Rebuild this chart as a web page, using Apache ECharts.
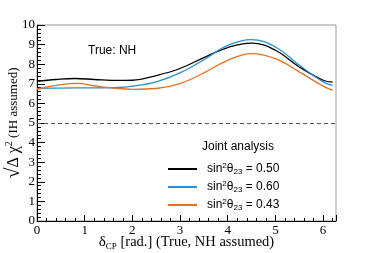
<!DOCTYPE html>
<html><head><meta charset="utf-8">
<script src="https://cdn.jsdelivr.net/npm/echarts@6/dist/echarts.min.js"></script>
<style>html,body{margin:0;padding:0;background:#fff}#c{width:374px;height:253px}</style>
</head><body><div id="c"></div>
<script>
const xVals = [0, 0.4, 0.8, 1.2, 1.7, 2.0, 2.5, 3.0, 3.5, 4.0, 4.5, 5.0, 5.5, 6.0, 6.2];
const s050 = [7.13, 7.22, 7.27, 7.22, 7.17, 7.18, 7.42, 7.78, 8.34, 8.85, 9.08, 8.71, 7.86, 7.18, 7.09];
const s060 = [6.76, 6.78, 6.79, 6.79, 6.81, 6.88, 7.10, 7.56, 8.23, 8.96, 9.25, 8.88, 7.95, 7.10, 6.92];
const orX  = [0, 0.85, 1.2, 1.7, 2.0, 2.5, 3.0, 3.5, 4.0, 4.5, 5.0, 5.5, 6.0, 6.2];
const s043 = [6.72, 7.02, 6.9, 6.76, 6.72, 6.76, 7.01, 7.56, 8.2, 8.54, 8.28, 7.61, 6.88, 6.67];
const names = ['0.50', '0.60', '0.43'];
const colors = ['#000000', '#2a8fcf', '#e8701c'];
const refLine = 5;

const chart = echarts.init(document.getElementById('c'));
const serif = 'Liberation Serif';
const sans = 'Liberation Sans';
function pairs(xs, ys){ return xs.map((x,i)=>[x, ys[i]]); }
const lineSeries = (n, data, c) => ({
  name: n, type: 'line', data: data, smooth: 0.4, symbol: 'none',
  lineStyle: {color: c, width: 1.3}, itemStyle: {color: c}
});
chart.setOption({
  animation: false,
  grid: {left: 37, right: 38, top: 25, bottom: 32, show: true, borderColor: '#999', borderWidth: 1,
         containLabel: false, outerBoundsMode: 'none'},
  title: {text: 'True: NH', left: 83, top: 40, textStyle: {fontFamily: sans, fontSize: 12, fontWeight: 'normal', color: '#000'}},
  legend: {
    orient: 'vertical', left: 163, top: 157, itemWidth: 29, itemHeight: 2, itemGap: 4, icon: 'rect',
    data: names,
    formatter: n => '{f|sin}{sup|2}{a|θ}{sub|23}{a| = ' + n + '}',
    textStyle: {fontFamily: sans, fontSize: 12, color: '#000', rich: {
      f: {fontFamily: sans, fontSize: 12, color: '#000', padding: [0,0,0,5]},
      a: {fontFamily: sans, fontSize: 12, color: '#000'},
      sup: {fontFamily: sans, fontSize: 8, color: '#000', verticalAlign: 'top', padding: [0,0,6,0]},
      sub: {fontFamily: sans, fontSize: 8, color: '#000', verticalAlign: 'bottom', padding: [6,0,0,0]}
    }}
  },
  graphic: [
    {type: 'text', left: 202, top: 141, style: {text: 'Joint analysis', font: '12px "Liberation Sans"', fill: '#000'}},
    {type: 'text', x: 14, y: 123, rotation: Math.PI/2, style: {
      text: '{r|√}{o|Δ χ}{sup|2}{n| (IH assumed)}', align: 'center', verticalAlign: 'middle',
      rich: {
        r: {font: '20px "Liberation Serif"', fill: '#000'},
        o: {font: '16px "Liberation Serif"', fill: '#000'},
        sup: {font: '10px "Liberation Serif"', fill: '#000', verticalAlign: 'top', padding: [0,0,8,0]},
        n: {font: '13px "Liberation Serif"', fill: '#000'}
      }}}
  ],
  xAxis: {
    type: 'value', min: 0, max: 6.27, interval: 1,
    name: '{d|δ}{sub|CP}{n| [rad.] (True, NH assumed)}', nameLocation: 'middle', nameGap: 13,
    nameMoveOverlap: false,
    nameTextStyle: {rich: {
      d: {fontFamily: serif, fontSize: 15, color: '#000'},
      sub: {fontFamily: serif, fontSize: 9, color: '#000', verticalAlign: 'bottom', padding: [8,0,0,0]},
      n: {fontFamily: serif, fontSize: 14.5, color: '#000'}
    }},
    axisLine: {lineStyle: {color: '#000', width: 1}},
    axisTick: {inside: true, length: 6, lineStyle: {color: '#000'}},
    minorTick: {show: true, splitNumber: 5, length: 3, lineStyle: {color: '#000'}},
    axisLabel: {fontFamily: serif, fontSize: 13, color: '#000', margin: 3, showMaxLabel: false},
    splitLine: {show: false}
  },
  yAxis: {
    type: 'value', min: 0, max: 10, interval: 1,
    axisLine: {show: true, lineStyle: {color: '#000', width: 1}},
    axisTick: {show: true, inside: true, length: 8, lineStyle: {color: '#000'}},
    minorTick: {show: true, splitNumber: 5, length: 4, lineStyle: {color: '#000'}},
    axisLabel: {fontFamily: serif, fontSize: 13, color: '#000', margin: 2},
    splitLine: {show: false}
  },
  series: [
    lineSeries(names[0], pairs(xVals, s050), colors[0]),
    lineSeries(names[1], pairs(xVals, s060), colors[1]),
    lineSeries(names[2], pairs(orX, s043), colors[2]),
    {type: 'line', data: [], markLine: {silent: true, symbol: 'none', label: {show: false},
      lineStyle: {color: '#555', type: [4, 3], width: 1}, data: [{yAxis: refLine}]}}
  ]
});
</script></body></html>
